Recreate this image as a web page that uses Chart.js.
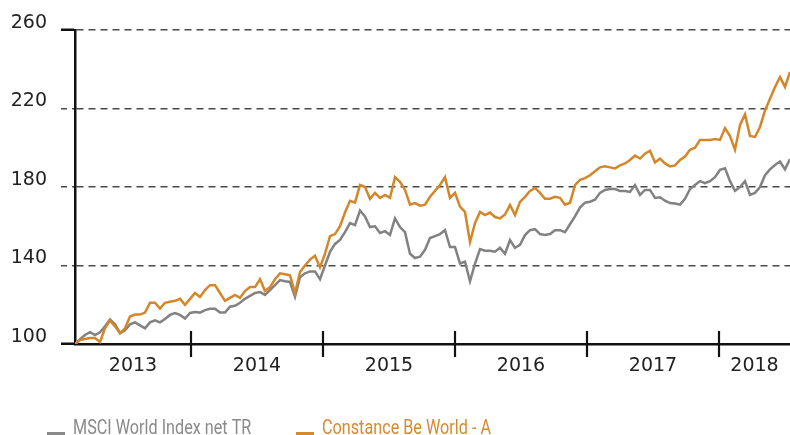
<!DOCTYPE html>
<html>
<head>
<meta charset="utf-8">
<script src="https://cdn.jsdelivr.net/npm/chart.js@4.4.0/dist/chart.umd.min.js"></script>
<style>
  html, body { margin: 0; padding: 0; background: #fff; }
</style>
</head>
<body>
<canvas id="perfChart" width="790" height="435"></canvas>
<script>
// sampled every ~2 weeks, Feb 2013 .. Jul 2018, rebased to 100
const years = [2013, 2014, 2015, 2016, 2017, 2018];
const yTicks = [100, 140, 180, 220, 260];
const seriesNames = ['MSCI World Index net TR', 'Constance Be World - A'];
const startYear = 2013.121;
const endYear = 2018.538;

const constanceValues = [
  100, 102, 102.5, 103, 103, 101, 108, 112, 109, 105.5,
  108, 114, 115, 115, 116, 121, 121, 118, 121, 121.5,
  122, 123, 120, 123, 126, 124, 127.5, 130, 130, 126,
  122, 123.5, 125, 123.5, 127, 129, 129, 133, 127, 129,
  133, 136, 135.5, 135, 126, 136.7, 140, 143, 145, 139,
  146, 155, 156, 160, 167, 173, 172, 181, 180, 174,
  177, 174.4, 176, 174.5, 185, 182.6, 178.5, 171, 171.8, 170.5,
  171, 175, 178, 181, 185, 174.4, 177, 170, 167.3, 152,
  161.6, 167.3, 165.7, 167, 164.7, 164, 166, 170.8, 165.7, 172.4,
  175, 178, 179.5, 177, 174, 174, 175, 174.5, 171, 172,
  181, 183.6, 184.5, 186, 188, 190, 190.5, 190, 189.5, 191,
  192, 193.8, 196, 194.5, 197, 198.5, 192.5, 194.5, 192, 190.5,
  191, 193.8, 195.5, 199, 200, 204, 204, 204, 204.5, 204,
  210, 206, 199, 211.6, 217, 206, 205.5, 210.6, 219, 225,
  231, 236, 231, 238.6
];

const msciValues = [
  100, 102.5, 104.6, 106, 104.5, 106, 109, 112.5, 110, 105.5,
  107, 110, 111, 109.5, 108, 111, 112, 111, 112.7, 114.8,
  115.8, 114.8, 113, 115.8, 116.3, 116, 117.3, 118, 118, 116,
  116, 119, 119.5, 121, 123, 124.5, 126, 126.5, 125, 127.5,
  130, 132.6, 132, 131.6, 124, 134, 136, 137, 137, 133,
  140, 147, 151, 153, 157, 161.6, 160.6, 168, 165, 159.6,
  160, 156.6, 157.5, 155.6, 164, 159.6, 157, 146, 143.8, 144.5,
  148, 154, 155, 156, 158, 149.4, 149.4, 141, 142, 132,
  141, 148.4, 147.5, 147.5, 147, 149, 146, 153, 149, 150.5,
  155.5, 158, 158.5, 156, 155.5, 156, 158, 158, 157, 161,
  165, 169.5, 172, 172.5, 173.5, 177, 178.5, 179, 179, 178,
  178, 177.5, 181, 176, 178.5, 178.5, 174.4, 174.8, 173, 171.8,
  171.6, 171, 174, 179, 181, 183, 182, 183, 185, 188.7,
  189.5, 183, 178, 180, 183, 176, 177, 180, 186, 189,
  191.2, 193, 189, 194.3
];

const step = (endYear - startYear) / (msciValues.length - 1);
const toPoints = arr => arr.map((v, i) => ({ x: startYear + i * step, y: v }));

const axisFont = { family: "'DejaVu Sans', Verdana, sans-serif", size: 19 };
const isEdge = c => c.tick && (c.tick.value === 100 || c.tick.value === 260);

// year separators crossing the x axis
const yearTicks = {
  id: 'yearTicks',
  afterDatasetsDraw(chart) {
    const ctx = chart.ctx;
    const xs = chart.scales.x;
    const bottom = chart.chartArea.bottom;
    ctx.save();
    ctx.strokeStyle = '#111';
    ctx.lineWidth = 2.2;
    years.slice(1).forEach(y => {
      const px = Math.round(xs.getPixelForValue(y));
      ctx.beginPath();
      ctx.moveTo(px, bottom - 13);
      ctx.lineTo(px, bottom + 13);
      ctx.stroke();
    });
    ctx.restore();
  }
};

// legend sits at the very bottom, marker on the baseline, narrow type
const bottomLegend = {
  id: 'bottomLegend',
  afterDraw(chart) {
    const ctx = chart.ctx;
    const items = [
      { text: seriesNames[0], color: '#8a8a8a', x: 47 },
      { text: seriesNames[1], color: '#d68a2e', x: 296 }
    ];
    ctx.save();
    ctx.font = "20px Roboto, sans-serif";
    ctx.textBaseline = 'alphabetic';
    items.forEach(it => {
      ctx.fillStyle = it.color;
      ctx.fillRect(it.x, 432, 18, 3);
      ctx.save();
      ctx.translate(it.x + 26, 434);
      ctx.scale(0.81, 1);
      ctx.fillText(it.text, 0, 0);
      ctx.restore();
    });
    ctx.restore();
  }
};

new Chart(document.getElementById('perfChart'), {
  type: 'line',
  data: {
    datasets: [
      {
        label: seriesNames[0],
        data: toPoints(msciValues),
        borderColor: '#828282',
        borderWidth: 2.5,
        pointRadius: 0,
        tension: 0,
        order: 1
      },
      {
        label: seriesNames[1],
        data: toPoints(constanceValues),
        borderColor: '#d4862a',
        borderWidth: 2.5,
        pointRadius: 0,
        tension: 0,
        order: 0
      }
    ]
  },
  options: {
    responsive: false,
    animation: false,
    devicePixelRatio: 1,
    layout: { padding: { top: 30, right: 0, left: 0, bottom: 0 } },
    plugins: {
      legend: { display: false },
      tooltip: { enabled: false }
    },
    scales: {
      x: {
        type: 'linear',
        min: startYear,
        max: endYear,
        afterFit(s) { s.height = 91; },
        afterBuildTicks(s) {
          s.ticks = years.map(y => ({
            value: (Math.max(y, startYear) + Math.min(y + 1, endYear)) / 2
          }));
        },
        grid: { display: false },
        border: { display: true, color: '#111', width: 2.5 },
        ticks: {
          autoSkip: false,
          maxRotation: 0,
          padding: 3,
          color: '#222',
          font: axisFont,
          callback: v => String(Math.floor(v))
        }
      },
      y: {
        min: 100,
        max: 260,
        afterFit(s) { s.width = 75; },
        afterBuildTicks(s) { s.ticks = yTicks.map(v => ({ value: v })); },
        grid: {
          color: '#4a4a4a',
          lineWidth: 1.5,
          tickLength: 14,
          tickColor: c => isEdge(c) ? '#111' : '#4a4a4a',
          tickWidth: c => isEdge(c) ? 2.5 : 1.5,
          tickBorderDash: c => isEdge(c) ? [] : [6, 5]
        },
        border: { display: true, color: '#111', width: 2.5, dash: [7, 5] },
        ticks: {
          padding: 14,
          labelOffset: -7,
          color: '#222',
          font: axisFont
        }
      }
    }
  },
  plugins: [yearTicks, bottomLegend]
});
</script>
</body>
</html>
